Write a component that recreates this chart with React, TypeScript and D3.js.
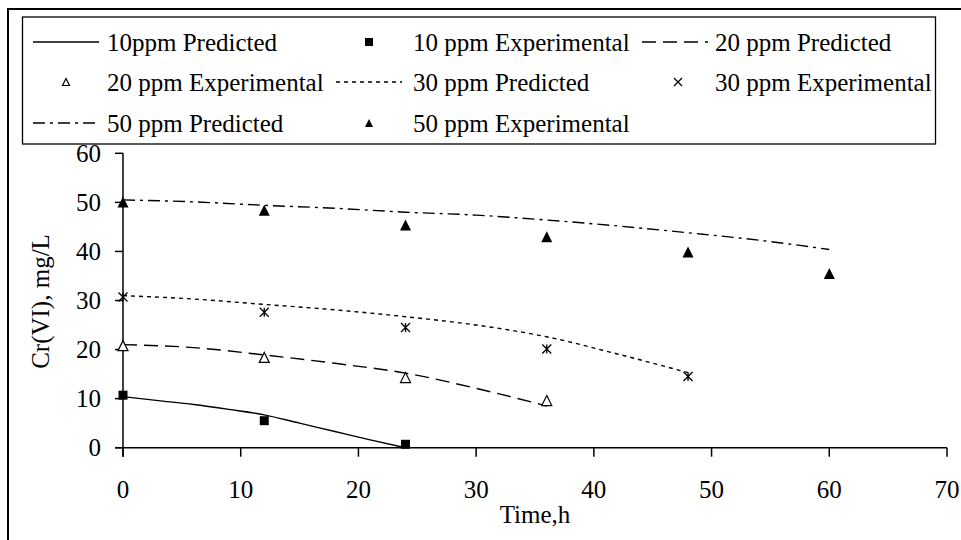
import React from "react";
import * as d3 from "d3";

const xTicks = [0, 10, 20, 30, 40, 50, 60, 70];
const yTicks = [0, 10, 20, 30, 40, 50, 60];

const pred10: [number, number][] = [[0, 10.4], [3, 9.6], [6, 8.8], [9, 7.8], [12, 6.7], [15, 5.0], [18, 3.3], [21, 1.6], [24, 0]];
const exp10: [number, number][] = [[0, 10.7], [12, 5.5], [24, 0.7]];
const pred20: [number, number][] = [[0, 21.0], [6, 20.4], [12, 18.9], [18, 17.2], [24, 15.2], [30, 12.1], [36, 8.5]];
const exp20: [number, number][] = [[0, 20.8], [12, 18.4], [24, 14.3], [36, 9.6]];
const pred30: [number, number][] = [[0, 31.0], [6, 30.3], [12, 29.2], [18, 28.1], [24, 26.7], [30, 25.0], [36, 22.6], [42, 19.1], [48, 15.3]];
const exp30: [number, number][] = [[0, 30.7], [12, 27.6], [24, 24.5], [36, 20.1], [48, 14.5]];
const pred50: [number, number][] = [[0, 50.5], [6, 50.1], [12, 49.4], [18, 48.8], [24, 48.0], [30, 47.4], [36, 46.4], [42, 45.2], [48, 43.8], [54, 42.3], [60, 40.4]];
const exp50: [number, number][] = [[0, 50.1], [12, 48.4], [24, 45.4], [36, 43.0], [48, 39.9], [60, 35.5]];

const FONT = "'Liberation Serif', 'Times New Roman', serif";
const FS = 25;

const DASH = {
  solid: "none",
  dashed: "14,7",
  dotted: "4,4",
  dashdot: "12,5,3,5",
};

function markerPath(kind: string, s: number): string {
  const h = s / 2;
  if (kind === "square") return `M${-h},${-h}H${h}V${h}H${-h}Z`;
  if (kind === "triangle" || kind === "triangleOpen") return `M0,${-h}L${h},${h}L${-h},${h}Z`;
  if (kind === "cross") return `M${-h},${-h}L${h},${h}M${h},${-h}L${-h},${h}`;
  return `M${-h},${-h}L${h},${h}M${h},${-h}L${-h},${h}M0,${-h}V${h}`;
}

function Marker({ kind, x, y, s }: { kind: string; x: number; y: number; s: number }) {
  const d = markerPath(kind, s);
  if (kind === "square" || kind === "triangle")
    return <path d={d} transform={`translate(${x},${y})`} fill="#000" stroke="none" />;
  if (kind === "triangleOpen")
    return <path d={d} transform={`translate(${x},${y})`} fill="#fff" stroke="#000" strokeWidth={1.2} />;
  return <path d={d} transform={`translate(${x},${y})`} fill="none" stroke="#000" strokeWidth={1.3} />;
}

export default function App() {
  const x = d3.scaleLinear().domain([0, 70]).range([123, 947]);
  const y = d3.scaleLinear().domain([0, 60]).range([447.7, 153.3]);
  const line = d3
    .line<[number, number]>()
    .x((d) => x(d[0]))
    .y((d) => y(d[1]))
    .curve(d3.curveMonotoneX);

  const predSeries = [
    { data: pred10, dash: DASH.solid },
    { data: pred20, dash: DASH.dashed },
    { data: pred30, dash: DASH.dotted },
    { data: pred50, dash: DASH.dashdot },
  ];
  const expSeries = [
    { data: exp10, kind: "square", s: 9 },
    { data: exp20, kind: "triangleOpen", s: 10 },
    { data: exp30, kind: "asterisk", s: 9 },
    { data: exp50, kind: "triangle", s: 11 },
  ];

  const legendCols = [33, 336, 642];
  const legendText = [107, 413, 715];
  const legendRows = [42, 82, 123];
  const legendItems = [
    { r: 0, c: 0, type: "line", dash: DASH.solid, label: "10ppm Predicted" },
    { r: 0, c: 1, type: "marker", kind: "square", label: "10 ppm Experimental" },
    { r: 0, c: 2, type: "line", dash: DASH.dashed, label: "20 ppm Predicted" },
    { r: 1, c: 0, type: "marker", kind: "triangleOpen", label: "20 ppm Experimental" },
    { r: 1, c: 1, type: "line", dash: DASH.dotted, label: "30 ppm Predicted" },
    { r: 1, c: 2, type: "marker", kind: "cross", label: "30 ppm Experimental" },
    { r: 2, c: 0, type: "line", dash: DASH.dashdot, label: "50 ppm Predicted" },
    { r: 2, c: 1, type: "marker", kind: "triangle", label: "50 ppm Experimental" },
  ];

  return (
    <svg
      width={961}
      height={540}
      style={{ position: "absolute", left: 0, top: 0, background: "#fff" }}
      fontFamily={FONT}
    >
      <rect x={0} y={0} width={961} height={540} fill="#fff" />
      <rect x={8} y={9} width={1000} height={600} fill="none" stroke="#000" strokeWidth={2} />

      <rect x={22.5} y={17} width={913} height={127} fill="#fff" stroke="#000" strokeWidth={1.3} />
      {legendItems.map((it, i) => {
        const x0 = legendCols[it.c];
        const cy = legendRows[it.r];
        return (
          <g key={i}>
            {it.type === "line" ? (
              <line x1={x0} x2={x0 + 66} y1={cy} y2={cy} stroke="#000" strokeWidth={1.5} strokeDasharray={it.dash} />
            ) : (
              <Marker
                kind={it.kind as string}
                x={x0 + (it.kind === "cross" ? 36 : 33)}
                y={cy}
                s={it.kind === "triangleOpen" ? 7 : 8}
              />
            )}
            <text x={legendText[it.c]} y={cy + 8.5} fontSize={FS} fill="#000">
              {it.label}
            </text>
          </g>
        );
      })}

      <line x1={x(0)} x2={x(0)} y1={y(60)} y2={y(0) + 9} stroke="#000" strokeWidth={1.5} />
      <line x1={x(0) - 8} x2={x(70)} y1={y(0)} y2={y(0)} stroke="#000" strokeWidth={1.5} />
      {yTicks.map((t) => (
        <g key={"y" + t}>
          <line x1={x(0) - 8} x2={x(0)} y1={y(t)} y2={y(t)} stroke="#000" strokeWidth={1.5} />
          <text x={101} y={y(t) + 8.5} textAnchor="end" fontSize={FS} fill="#000">
            {t}
          </text>
        </g>
      ))}
      {xTicks.map((t) => (
        <g key={"x" + t}>
          <line x1={x(t)} x2={x(t)} y1={y(0)} y2={y(0) + 9} stroke="#000" strokeWidth={1.5} />
          <text x={x(t)} y={498} textAnchor="middle" fontSize={FS} fill="#000">
            {t}
          </text>
        </g>
      ))}
      <text x={535} y={523} textAnchor="middle" fontSize={FS} fill="#000">
        Time,h
      </text>
      <text
        transform={`translate(49,${(y(0) + y(60)) / 2 + 1}) rotate(-90)`}
        textAnchor="middle"
        fontSize={FS}
        fill="#000"
      >
        Cr(VI), mg/L
      </text>

      {predSeries.map((s, i) => (
        <path key={"p" + i} d={line(s.data) || ""} fill="none" stroke="#000" strokeWidth={1.4} strokeDasharray={s.dash} />
      ))}
      {expSeries.map((s, i) =>
        s.data.map((d, j) => <Marker key={`e${i}-${j}`} kind={s.kind} x={x(d[0])} y={y(d[1])} s={s.s} />)
      )}
    </svg>
  );
}
